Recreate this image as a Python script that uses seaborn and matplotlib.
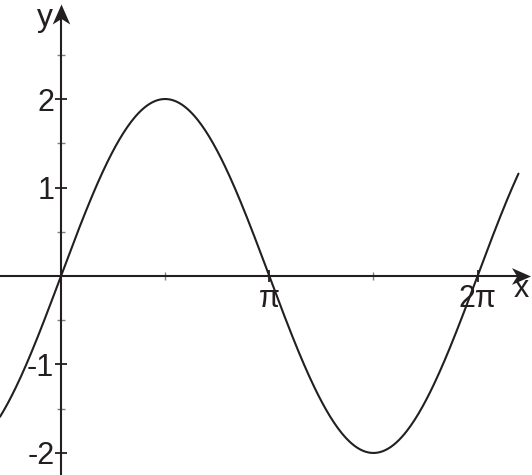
import numpy as np
import pandas as pd
import matplotlib
matplotlib.use("Agg")
import matplotlib.pyplot as plt
from matplotlib.path import Path
import seaborn as sns

sns.set_theme(style="white")
plt.rcParams["font.family"] = ["Liberation Sans", "DejaVu Sans"]

INK = "#231f20"
GREY = "#808080"

# curve: y = 2 sin x, from about x=-0.92 to x=6.9
amplitude = 2
x_start, x_end = -0.92, 6.9
x_major = [np.pi, 2 * np.pi]
x_major_labels = ["π", "2π"]
x_minor = [np.pi / 2, 3 * np.pi / 2]
y_major = [-2, -1, 1, 2]
y_major_labels = ["-2", "-1", "1", "2"]
y_minor = [-1.5, -0.5, 0.5, 1.5, 2.5]

xs = np.linspace(x_start, x_end, 400)
df = pd.DataFrame({"x": xs, "y": amplitude * np.sin(xs)})

fig = plt.figure(figsize=(5.32, 4.75), dpi=100)
ax = fig.add_axes([0, 0, 1, 1])
ax.set_xlim(-0.92, 7.104)
ax.set_ylim(-2.249, 3.119)

sns.lineplot(data=df, x="x", y="y", ax=ax, color=INK, linewidth=1.5)
ax.set(xlabel="", ylabel="")

# axes through the origin
for s in ax.spines.values():
    s.set_visible(False)
ax.spines["left"].set_position(("data", 0))
ax.spines["bottom"].set_position(("data", 0))
ax.plot([-0.95, 6.9], [0, 0], color=INK, lw=1.5, solid_capstyle="butt")
ax.plot([0, 0], [-2.3, 2.95], color=INK, lw=1.5, solid_capstyle="butt")

# swept arrow heads
head = [(1, 0), (-1, 0.88), (-0.45, 0), (-1, -0.88), (1, 0)]
codes = [Path.MOVETO, Path.LINETO, Path.LINETO, Path.LINETO, Path.CLOSEPOLY]
right_head = Path(head, codes)
up_head = Path([(-y, x) for x, y in head], codes)
ax.plot(6.935, 0, marker=right_head, markersize=13.7, color=INK, mew=0)
ax.plot(0, 2.96, marker=up_head, markersize=14.4, color=INK, mew=0)

ax.set_xticks(x_major, x_major_labels)
ax.set_xticks(x_minor, minor=True)
ax.set_yticks(y_major, y_major_labels)
ax.set_yticks(y_minor, minor=True)
ax.tick_params(which="major", direction="inout", length=8.6, width=1.3, color=INK,
               labelsize=22, labelcolor=INK, pad=0.5)
ax.tick_params(which="minor", direction="inout", length=6, width=1, color=GREY)
ax.tick_params(axis="x", which="major", pad=1.5)
ax.tick_params(left=True, bottom=True, which="both")

ax.text(53 / 532, 1 - 26 / 475, "y", transform=ax.transAxes, ha="right", va="baseline",
        fontsize=23, color=INK)
ax.text(514 / 532, 1 - 297 / 475, "x", transform=ax.transAxes, ha="left", va="baseline",
        fontsize=22, color=INK)

fig.savefig("out.png", dpi=100)
